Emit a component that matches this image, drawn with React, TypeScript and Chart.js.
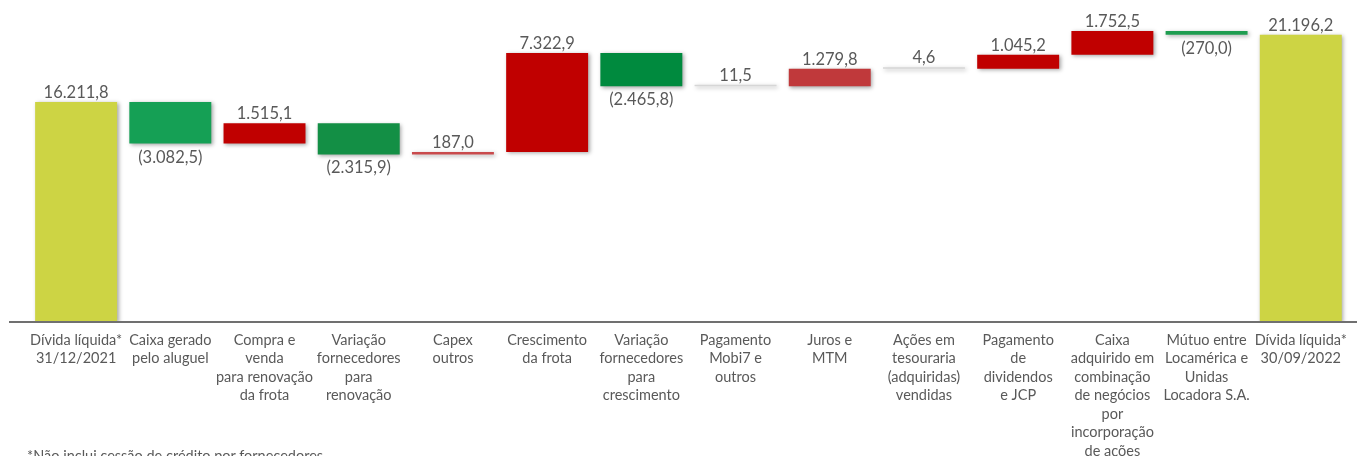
import React, { useEffect, useRef } from 'react';
import { Chart, registerables } from 'chart.js';

Chart.register(...registerables);

const categories: string[][] = [
  ['Dívida líquida*', '31/12/2021'],
  ['Caixa gerado', 'pelo aluguel'],
  ['Compra e', 'venda', 'para renovação', 'da frota'],
  ['Variação', 'fornecedores', 'para', 'renovação'],
  ['Capex', 'outros'],
  ['Crescimento', 'da frota'],
  ['Variação', 'fornecedores', 'para', 'crescimento'],
  ['Pagamento', 'Mobi7 e', 'outros'],
  ['Juros e', 'MTM'],
  ['Ações em', 'tesouraria', '(adquiridas)', 'vendidas'],
  ['Pagamento', 'de', 'dividendos', 'e JCP'],
  ['Caixa', 'adquirido em', 'combinação', 'de negócios', 'por', 'incorporação', 'de ações'],
  ['Mútuo entre', 'Locamérica e', 'Unidas', 'Locadora S.A.'],
  ['Dívida líquida*', '30/09/2022'],
];

const values: number[] = [
  16211.8, -3082.5, 1515.1, -2315.9, 187.0, 7322.9, -2465.8, 11.5, 1279.8, 4.6, 1045.2, 1752.5, -270.0, 21196.2,
];

const isTotal: boolean[] = [
  true, false, false, false, false, false, false, false, false, false, false, false, false, true,
];

const barColors: string[] = [
  '#CDD444', '#15A055', '#C00000', '#138F45', '#C94A4C', '#C00000', '#008A3E',
  '#D6D6D6', '#C0393B', '#D6D6D6', '#C00000', '#C00000', '#1E9D50', '#CDD444',
];

const footnote = '*Não inclui cessão de crédito por fornecedores';

function fmt(v: number): string {
  const a = Math.abs(v);
  const [i, d] = a.toFixed(1).split('.');
  const s = i.replace(/\B(?=(\d{3})+(?!\d))/g, '.') + ',' + d;
  return v < 0 ? `(${s})` : s;
}

function buildRanges(): [number, number][] {
  const out: [number, number][] = [];
  let run = 0;
  values.forEach((v, i) => {
    if (isTotal[i]) {
      out.push([0, v]);
      run = v;
    } else {
      out.push([run, run + v]);
      run += v;
    }
  });
  return out;
}

const TEXT = '#595959';
const FONT = 'Lato, "Open Sans", sans-serif';

export default function App() {
  const ref = useRef<HTMLCanvasElement | null>(null);

  useEffect(() => {
    if (!ref.current) return;
    const ranges = buildRanges();

    const shadowPlugin = {
      id: 'shadowPlugin',
      beforeDatasetsDraw(chart: any) {
        const ctx = chart.ctx;
        ctx.save();
        ctx.shadowColor = 'rgba(0,0,0,0.35)';
        ctx.shadowBlur = 4;
        ctx.shadowOffsetX = 1.5;
        ctx.shadowOffsetY = 1.5;
      },
      afterDatasetsDraw(chart: any) {
        chart.ctx.restore();
      },
    };

    const labelPlugin = {
      id: 'labelPlugin',
      afterDraw(chart: any) {
        const ctx = chart.ctx;
        const meta = chart.getDatasetMeta(0);
        ctx.save();
        ctx.font = `16.5px ${FONT}`;
        ctx.fillStyle = TEXT;
        ctx.textAlign = 'center';
        ctx.textBaseline = 'alphabetic';
        meta.data.forEach((el: any, i: number) => {
          const top = Math.min(el.y, el.base);
          const bottom = Math.max(el.y, el.base);
          const v = values[i];
          if (v >= 0) {
            ctx.fillText(fmt(v), el.x, top - 4);
          } else {
            ctx.fillText(fmt(v), el.x, bottom + 19);
          }
        });
        // axis line
        const y0 = chart.scales.y.getPixelForValue(0) + 1;
        ctx.strokeStyle = '#404040';
        ctx.lineWidth = 1.5;
        ctx.beginPath();
        ctx.moveTo(9, y0);
        ctx.lineTo(chart.width, y0);
        ctx.stroke();
        ctx.restore();
      },
    };

    const chart = new Chart(ref.current, {
      type: 'bar',
      data: {
        labels: categories,
        datasets: [
          {
            data: ranges as any,
            backgroundColor: barColors,
            borderWidth: 0,
            minBarLength: 1.5,
            categoryPercentage: 1,
            barPercentage: 0.87,
          },
        ],
      },
      options: {
        animation: false,
        responsive: false,
        layout: { padding: { left: 29, right: 4, top: 3.5, bottom: 0 } },
        plugins: {
          legend: { display: false },
          tooltip: { enabled: false },
        },
        scales: {
          y: {
            display: false,
            min: 0,
            max: 23500,
          },
          x: {
            grid: { display: false, drawTicks: false },
            border: { display: false },
            afterFit: (scale: any) => {
              scale.height = 135;
            },
            ticks: {
              autoSkip: false,
              maxRotation: 0,
              minRotation: 0,
              padding: 10,
              color: TEXT,
              font: { family: FONT, size: 14.5, lineHeight: '18.5px' } as any,
            },
          },
        },
      },
      plugins: [shadowPlugin, labelPlugin],
    });

    return () => chart.destroy();
  }, []);

  return (
    <div style={{ position: 'absolute', left: 0, top: 0, width: 1357, height: 456, background: '#fff', overflow: 'hidden' }}>
      <canvas ref={ref} width={1357} height={456} style={{ display: 'block' }} />
      <div
        style={{
          position: 'absolute',
          left: 27,
          top: 447,
          fontFamily: FONT,
          fontSize: 14.5,
          color: TEXT,
          whiteSpace: 'nowrap',
        }}
      >
        {footnote}
      </div>
    </div>
  );
}
